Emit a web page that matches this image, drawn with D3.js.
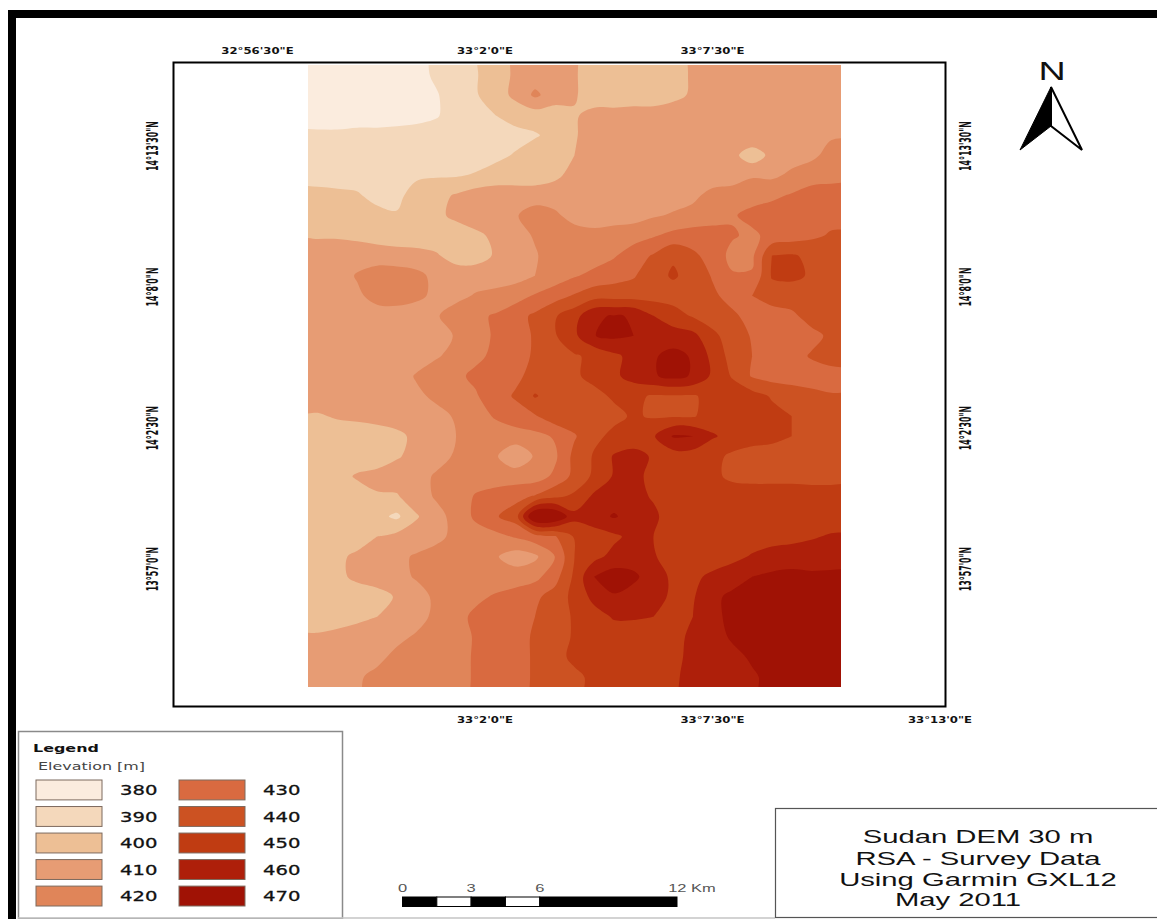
<!DOCTYPE html>
<html>
<head>
<meta charset="utf-8">
<script src="https://cdn.jsdelivr.net/npm/d3@7"></script>
<style>
  html, body { margin: 0; background: #fff; }
  svg { display: block; }
</style>
</head>
<body>
<div id="wrapper"></div>
<script>
// elevation in m, west to east, north to south
const elevation = [
  [380,380,380,380,380,381,387,390,394,402,406,410,410,406,400,400,400,400,402,406,410,410,410,410,410,410,410],
  [380,380,380,380,380,382,384,391,394,401,407,417,410,406,400,400,400,400,403,406,410,410,410,410,410,410,410],
  [380,380,380,380,380,381,384,390,392,395,400,400,400,404,408,408,409,409,409,410,410,410,410,410,410,410,410],
  [387,387,388,388,389,390,390,390,390,390,391,394,398,404,410,410,410,410,410,410,410,410,414,410,410,411,414],
  [390,390,390,390,390,390,390,390,390,392,396,400,401,405,410,410,410,410,410,410,410,408,399,408,411,413,418],
  [391,391,391,391,390,393,394,394,396,400,400,400,403,408,410,410,410,410,410,410,410,410,414,413,417,420,420],
  [398,397,396,392,392,400,402,406,410,410,410,410,410,410,410,410,410,410,411,413,418,420,421,423,426,430,432],
  [400,400,399,398,396,400,403,407,410,412,414,420,417,411,410,410,411,414,416,418,420,424,428,430,430,431,432],
  [404,404,403,401,400,400,400,400,403,407,411,416,420,420,418,420,421,424,428,430,430,426,423,428,430,433,436],
  [410,410,410,410,409,408,406,401,401,406,410,414,420,420,420,424,430,436,444,437,431,422,423,445,446,443,441],
  [410,410,416,420,420,418,412,410,410,410,411,415,419,424,428,431,434,442,446,442,434,426,426,446,447,444,441],
  [410,410,413,419,420,417,413,412,416,418,421,426,431,436,441,441,441,441,441,442,437,431,435,440,440,440,440],
  [410,410,410,410,410,410,414,420,423,426,431,437,444,451,464,465.5,464.5,455,449,444,441,437,431,430,433,439,441],
  [410,410,410,410,410,410,410,416,422,426,431,436,444,453,464.8,467,465,460,460,458,447,441,434,430,430,432,437],
  [410,410,410,410,410,410,414,418,423,427,432,436,441,444,447,453,458,464,468,464,452,441,435,431,431,436,440],
  [410,410,410,410,410,416,420,423,427,430,433,438,441,444,447,453,459,464,468,464,453,444,434,431,430,430,430],
  [410,410,410,410,410,413,417,420,424,431,436,446,440,440,443,446,447,444,444,444,448,451,449,444,441,438,436],
  [404,406,407,408,409,410,412,416,421,426,431,434,441,441,440,443,446,444,444,444,450,450,450,448,445,441,440],
  [400,400,400,401,403,407,410,415,420,420,420,422,426,434,443,447,450,454,466,465,456,452,450,448,445,441,440],
  [400,400,400,400,404,408,412,416,419,416,408,416,423,438,446,456,458,454,450,450,448,443,440,440,440,440,440],
  [400,402,406,408,410,412,416,419,420,420,420,420,427,438,447,456,457,453,450,449,447,443,442,442,442,442,442],
  [400,400,401,404,404,411,416,419,426,429,432,436,443,447,457,460,458,454,450,450,450,450,450,450,450,449,449],
  [400,400,400,398,393,404,412,418,427,434,440,478,476,458,461,466,461,457,450,450,450,450,450,450,450,450,450],
  [400,400,400,405,408,410,413,417,420,422,426,431,434,446,450,453,458,455,450,450,450,450,450,451,452,454,456],
  [400,403,407,409,413,416,418,420,420,416,410,413,425,445,452,458,460,456,450,450,450,452,456,459,460,460,461],
  [400,403,407,410,412,416,418,420,420,420,420,422,431,447,465,470,467,460,453,453,457,461,465,467,468,467,467],
  [400,400,400,401,406,411,417,420,423,426,429,433,439,448,458,464,461,459,453,454,463,467,470,470,470,470,470],
  [401,402,403,405,408,412,417,422,427,430,432,435,441,446,451,456,456,455,450,455,463,467,470,470,470,470,470],
  [406,407,409,411,413,416,419,421,426,429,432,436,441,446,450,450,450,450,452,457,462,466,470,470,470,470,470],
  [410,410,411,413,417,419,420,422,426,429,432,436,442,447,450,450,450,450,453,457,460,463,466,470,470,470,470],
  [411,412,414,417,418,420,420,422,426,429,432,436,440,443,447,450,450,452,454,457,459,461,464,467,470,470,470]
];

// lower edge of each class, then the class the legend calls it
const classBreaks = [300, 385, 395, 405, 415, 425, 435, 445, 455, 465];
const classLabels = [380, 390, 400, 410, 420, 430, 440, 450, 460, 470];
const classColors = ['#fbecde', '#f4d8bb', '#edbf95', '#e79c74', '#e08559',
                     '#d96a40', '#cc5222', '#c03c12', '#ae1f0a', '#a01205'];

// minutes of arc, 33 deg = 0 for longitude, 14 deg = 0 for latitude
const lonTicksTop = [-3.5, 2, 7.5];
const lonLabelsTop = ['32°56\'30"E', '33°2\'0"E', '33°7\'30"E'];
const lonTicksBottom = [2, 7.5, 13];
const lonLabelsBottom = ['33°2\'0"E', '33°7\'30"E', '33°13\'0"E'];
const latTicks = [13.5, 8, 2.5, -3];
const latLabels = ['14°13\'30"N', '14°8\'0"N', '14°2\'30"N', '13°57\'0"N'];

const scaleKm = [0, 3, 6, 12];
const scaleBarStops = [0, 1.5, 3, 4.5, 6, 12];
const titleLines = ['Sudan DEM 30 m', 'RSA - Survey Data', 'Using Garmin GXL12', 'May 2011'];

function drawChart() {

    const width = 1157;
    const height = 919;

    const svg = d3.select('#wrapper').append('svg')
        .attr('width', width)
        .attr('height', height);

    // frame of the scanned layout
    svg.append('rect').attr('x', 8).attr('y', 10).attr('width', width).attr('height', 8).attr('fill', '#000');
    svg.append('rect').attr('x', 8).attr('y', 10).attr('width', 8).attr('height', height).attr('fill', '#000');

    const nRows = elevation.length;
    const nCols = elevation[0].length;

    const map = { left: 308, right: 841, top: 65, bottom: 687 };
    const xScale = d3.scaleLinear().domain([0, nCols]).range([map.left, map.right]);
    const yScale = d3.scaleLinear().domain([0, nRows]).range([map.top, map.bottom]);

    const colorScale = d3.scaleOrdinal().domain(classBreaks).range(classColors);

    // repeat the edge rows so the bands run straight off the map, the clip trims them
    const padRow = r => [r[0], ...r, r[r.length - 1]];
    const padded = [elevation[0], ...elevation, elevation[nRows - 1]].map(padRow).flat();

    const contours = d3.contours()
        .size([nCols + 2, nRows + 2])
        .thresholds(classBreaks)(padded);

    const ringLine = d3.line()
        .curve(d3.curveCatmullRomClosed.alpha(0.5))
        .x(p => xScale(p[0] - 1))
        .y(p => yScale(p[1] - 1));

    const contourPath = d => d.coordinates
        .flatMap(polygon => polygon.map(ring => ringLine(ring.slice(0, -1))))
        .join('');

    svg.append('defs').append('clipPath')
        .attr('id', 'map-clip')
        .append('rect')
        .attr('x', map.left)
        .attr('y', map.top)
        .attr('width', map.right - map.left)
        .attr('height', map.bottom - map.top);

    svg.append('g')
        .attr('clip-path', 'url(#map-clip)')
        .selectAll('path')
        .data(contours)
        .join('path')
        .attr('d', contourPath)
        .attr('fill', d => colorScale(d.value));

    // neatline
    svg.append('rect')
        .attr('x', 173.5).attr('y', 62.5)
        .attr('width', 772).attr('height', 644)
        .attr('fill', 'none')
        .attr('stroke', '#000')
        .attr('stroke-width', 2);

    // graticule labels
    const lonScale = d3.scaleLinear().domain([2, 13]).range([485, 940]);
    const latScale = d3.scaleLinear().domain([-3, 13.5]).range([569, 146]);

    const tickFont = 'DejaVu Sans, sans-serif';

    function lonLabels(ticks, labels, y) {
        svg.append('g').selectAll('text')
            .data(ticks)
            .join('text')
            .attr('transform', d => `translate(${lonScale(d)},${y}) scale(1.3,1)`)
            .attr('text-anchor', 'middle')
            .attr('font-family', tickFont)
            .attr('font-size', 9)
            .attr('font-weight', 'bold')
            .attr('fill', '#111')
            .text((d, i) => labels[i]);
    }
    lonLabels(lonTicksTop, lonLabelsTop, 53.5);
    lonLabels(lonTicksBottom, lonLabelsBottom, 723);

    [158, 971].forEach(x => {
        svg.append('g').selectAll('text')
            .data(latTicks)
            .join('text')
            .attr('transform', d => `translate(${x},${latScale(d)}) rotate(-90) scale(1.05,2)`)
            .attr('text-anchor', 'middle')
            .attr('font-family', tickFont)
            .attr('font-size', 7.5)
            .attr('font-weight', 'bold')
            .attr('fill', '#111')
            .text((d, i) => latLabels[i]);
    });

    // north arrow
    const north = svg.append('g');
    north.append('text')
        .attr('transform', 'translate(1052,80) scale(1.45,1)')
        .attr('text-anchor', 'middle')
        .attr('font-family', 'Liberation Sans, sans-serif')
        .attr('font-size', 26)
        .attr('fill', '#111')
        .text('N');
    north.append('path')
        .attr('d', 'M1051,87 L1082,150 L1051,126 Z')
        .attr('fill', '#fff').attr('stroke', '#000').attr('stroke-width', 2);
    north.append('path')
        .attr('d', 'M1051,87 L1020,150 L1051,126 Z')
        .attr('fill', '#000').attr('stroke', '#000').attr('stroke-width', 1);

    // legend
    const legend = svg.append('g');
    legend.append('rect')
        .attr('x', 18.5).attr('y', 731.5)
        .attr('width', 324).attr('height', 187)
        .attr('fill', '#fff')
        .attr('stroke', '#8a8a8a')
        .attr('stroke-width', 1.5);
    legend.append('text')
        .attr('transform', 'translate(33,752) scale(1.45,1)')
        .attr('font-family', tickFont)
        .attr('font-size', 11)
        .attr('font-weight', 'bold')
        .attr('fill', '#111')
        .text('Legend');
    legend.append('text')
        .attr('transform', 'translate(38,770) scale(1.45,1)')
        .attr('font-family', tickFont)
        .attr('font-size', 11)
        .attr('fill', '#444')
        .text('Elevation [m]');

    const legendCol = d3.scaleOrdinal().domain([0, 1]).range([36, 179]);
    const legendRow = d3.scaleBand().domain(d3.range(5)).range([780, 906]).paddingInner(0.25);

    const cell = legend.selectAll('g.cell')
        .data(classLabels)
        .join('g')
        .attr('class', 'cell')
        .attr('transform', (d, i) => `translate(${legendCol(Math.floor(i / 5))},${legendRow(i % 5)})`);
    cell.append('rect')
        .attr('width', 66)
        .attr('height', legendRow.bandwidth())
        .attr('fill', (d, i) => classColors[i])
        .attr('stroke', '#7d6a5e')
        .attr('stroke-width', 1);
    cell.append('text')
        .attr('transform', 'translate(84,15) scale(1.4,1)')
        .attr('font-family', tickFont)
        .attr('font-size', 14)
        .attr('fill', '#111')
        .attr('stroke', '#111')
        .attr('stroke-width', 0.3)
        .text(d => d);

    // scale bar
    const kmScale = d3.scaleLinear().domain([0, 12]).range([402.5, 677]);
    const bar = svg.append('g');
    d3.pairs(scaleBarStops).forEach((p, i) => {
        bar.append('rect')
            .attr('x', kmScale(p[0])).attr('y', 897)
            .attr('width', kmScale(p[1]) - kmScale(p[0])).attr('height', 9.5)
            .attr('fill', i % 2 ? '#fff' : '#000')
            .attr('stroke', '#000').attr('stroke-width', 1);
    });
    bar.selectAll('text')
        .data(scaleKm)
        .join('text')
        .attr('transform', d => `translate(${d === 12 ? kmScale(d) + 15 : kmScale(d)},892) scale(1.5,1)`)
        .attr('text-anchor', 'middle')
        .attr('font-family', 'Liberation Sans, sans-serif')
        .attr('font-size', 11)
        .attr('fill', '#555')
        .text(d => d === 12 ? '12 Km' : d);

    // bottom edge of the layout
    svg.append('line')
        .attr('x1', 18).attr('x2', 775)
        .attr('y1', 918).attr('y2', 918)
        .attr('stroke', '#c4c4c4')
        .attr('stroke-width', 1.5);

    // title box
    const title = svg.append('g');
    title.append('rect')
        .attr('x', 775.5).attr('y', 808.5)
        .attr('width', 400).attr('height', 109)
        .attr('fill', '#fff')
        .attr('stroke', '#555')
        .attr('stroke-width', 1.2);
    const titleBaselines = [843, 865, 886, 906];
    title.selectAll('text')
        .data(titleLines)
        .join('text')
        .attr('transform', (d, i) => `translate(${i === 3 ? 958 : 978},${titleBaselines[i]}) scale(1.58,1)`)
        .attr('text-anchor', 'middle')
        .attr('font-family', 'Liberation Sans, sans-serif')
        .attr('font-size', 18.5)
        .attr('fill', '#111')
        .text(d => d);
}

drawChart();
</script>
</body>
</html>
